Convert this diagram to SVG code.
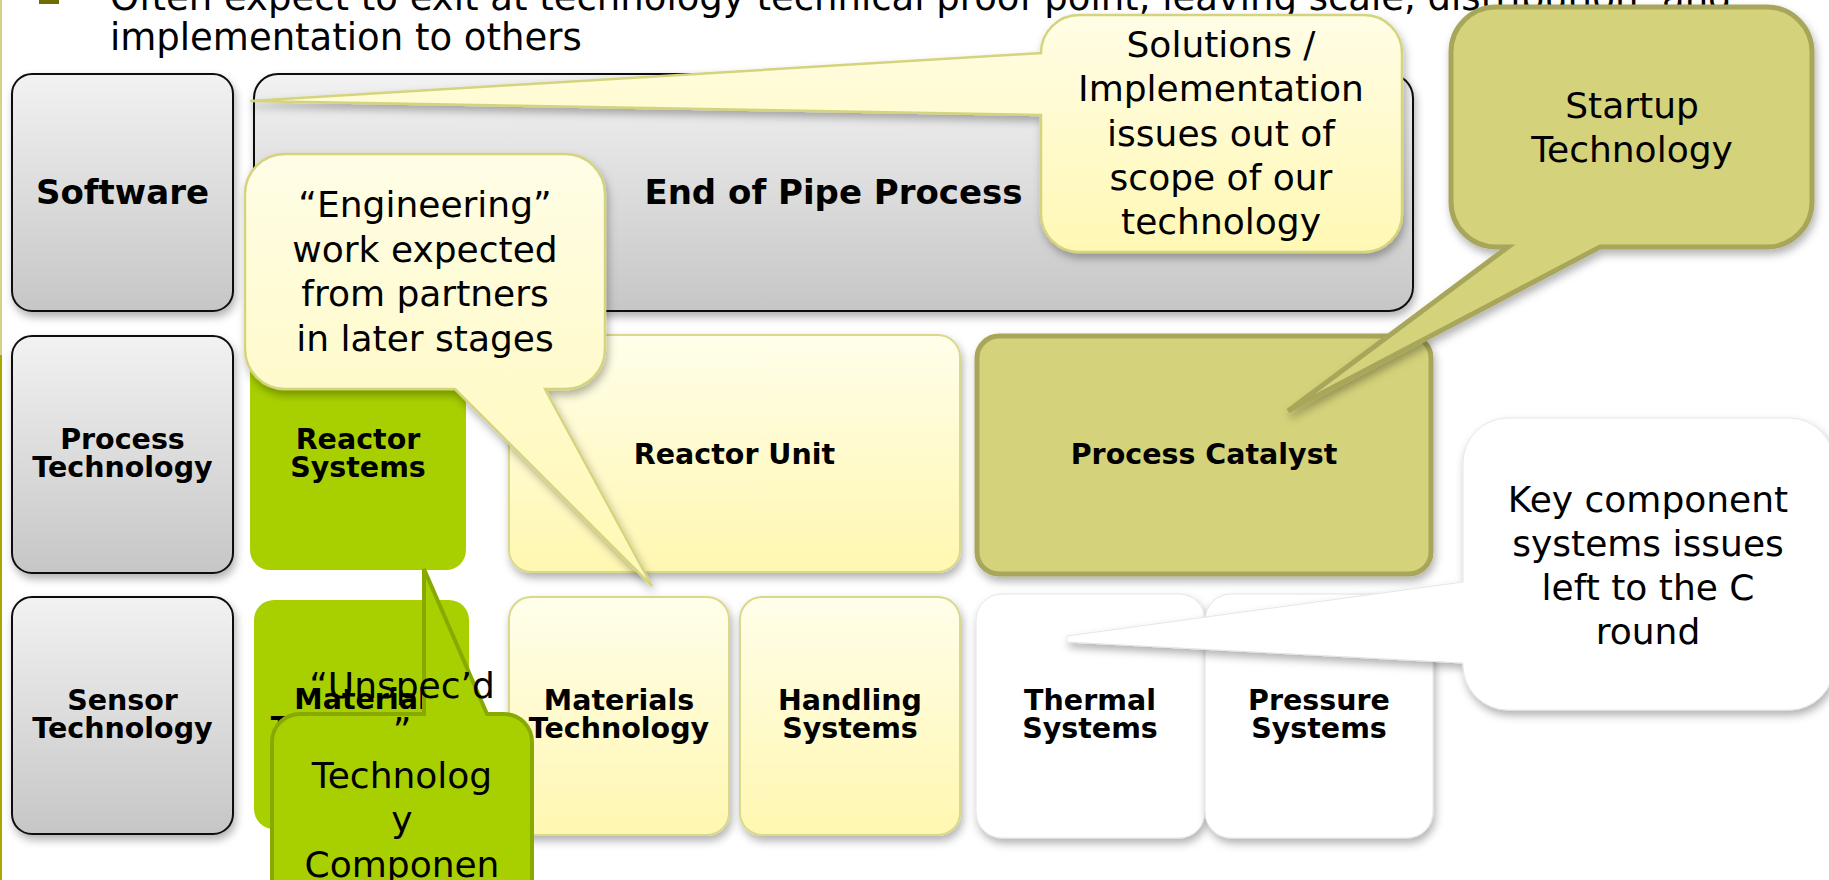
<svg xmlns="http://www.w3.org/2000/svg" width="1829" height="880" viewBox="0 0 1829 880">
<defs>
<linearGradient id="gGray" x1="0" y1="0" x2="0" y2="1"><stop offset="0" stop-color="#f2f2f2"/><stop offset="1" stop-color="#c6c6c6"/></linearGradient>
<linearGradient id="gYel" x1="0" y1="0" x2="0" y2="1"><stop offset="0" stop-color="#fffeea"/><stop offset="1" stop-color="#fff7b0"/></linearGradient>
<linearGradient id="gCall" x1="0" y1="0" x2="0" y2="1"><stop offset="0" stop-color="#fffde6"/><stop offset="1" stop-color="#fff8b4"/></linearGradient>
<filter id="sh" x="-10%" y="-10%" width="125%" height="130%"><feDropShadow dx="2" dy="5" stdDeviation="4" flood-color="#000" flood-opacity="0.3"/></filter>
<style>
text{font-family:"DejaVu Sans","Liberation Sans",sans-serif;fill:#000;text-anchor:middle}
.b1{font-weight:bold;font-size:34px}
.b2{font-weight:bold;font-size:28.5px}
.c{font-size:36px}
.hd{font-size:37px;text-anchor:start}
.gray{fill:url(#gGray);stroke:#111;stroke-width:2;filter:url(#sh)}
.yel{fill:url(#gYel);stroke:#d9d98c;stroke-width:2;filter:url(#sh)}
.olive{fill:#d4d27a;stroke:#a8a65a;stroke-width:5;filter:url(#sh)}
.green{fill:#a8d000}
.white{fill:#fff;stroke:#e4e4e4;stroke-width:1;filter:url(#sh)}
.cy{fill:url(#gCall);stroke:#d4d47e;stroke-width:2.5;filter:url(#sh)}
.cw{fill:#fff;stroke:#e6e6e6;stroke-width:1;filter:url(#sh)}
.cg{fill:#a8d000;stroke:#88aa00;stroke-width:4}
</style>
</defs>
<rect width="1829" height="880" fill="#fff"/>
<line x1="1" y1="0" x2="1" y2="355" stroke="#d2d28a" stroke-width="2"/>
<line x1="1" y1="355" x2="1" y2="880" stroke="#a8a800" stroke-width="2"/>
<g id="header">
<rect x="39" y="-16" width="20" height="20" fill="#6e6e00"/>
<text class="hd" x="110" y="10">Often expect to exit at technology technical proof point, leaving scale, distribution, and</text>
<text class="hd" x="110" y="50">implementation to others</text>
</g>
<g id="connectors"/>
<g id="software"><rect class="gray" x="12" y="74" width="221" height="237" rx="20"/><text class="b1" x="122.5" y="204">Software</text></g>
<g id="end-of-pipe"><rect class="gray" x="254" y="74" width="1159" height="237" rx="24"/><text class="b1" x="833.5" y="204">End of Pipe Process</text></g>
<g id="process-technology"><rect class="gray" x="12" y="336" width="221" height="237" rx="20"/><text class="b2" x="122.5" y="449">Process</text><text class="b2" x="122.5" y="477">Technology</text></g>
<g id="reactor-systems"><rect class="green" x="250" y="336" width="216" height="234" rx="20"/><text class="b2" x="358" y="449">Reactor</text><text class="b2" x="358" y="477">Systems</text></g>
<g id="reactor-unit"><rect class="yel" x="509" y="335" width="451" height="237" rx="22"/><text class="b2" x="734.5" y="464">Reactor Unit</text></g>
<g id="process-catalyst"><rect class="olive" x="977" y="336" width="454" height="238" rx="22"/><text class="b2" x="1204" y="464">Process Catalyst</text></g>
<g id="sensor-technology"><rect class="gray" x="12" y="597" width="221" height="237" rx="20"/><text class="b2" x="122.5" y="710">Sensor</text><text class="b2" x="122.5" y="738">Technology</text></g>
<g id="material-technology"><rect class="green" x="254" y="600" width="215" height="229" rx="20"/><text class="b2" x="361" y="709">Material</text><text class="b2" x="361" y="737">Technology</text></g>
<g id="materials-technology"><rect class="yel" x="509" y="597" width="220" height="238" rx="22"/><text class="b2" x="619" y="710">Materials</text><text class="b2" x="619" y="738">Technology</text></g>
<g id="handling-systems"><rect class="yel" x="740" y="597" width="220" height="238" rx="22"/><text class="b2" x="850" y="710">Handling</text><text class="b2" x="850" y="738">Systems</text></g>
<g id="thermal-systems"><rect class="white" x="976" y="594" width="229" height="244" rx="26"/><text class="b2" x="1090" y="710">Thermal</text><text class="b2" x="1090" y="738">Systems</text></g>
<g id="pressure-systems"><rect class="white" x="1205" y="594" width="228" height="244" rx="26"/><text class="b2" x="1319" y="710">Pressure</text><text class="b2" x="1319" y="738">Systems</text></g>
<g id="callout-solutions">
<path class="cy" d="M1079,15 H1364 A38,38 0 0 1 1402,53 V214 A38,38 0 0 1 1364,252 H1079 A38,38 0 0 1 1041,214 V115 L250,101 L1041,53 A38,38 0 0 1 1079,15 Z"/>
<text class="c" x="1221" y="57">Solutions /</text>
<text class="c" x="1221" y="101">Implementation</text>
<text class="c" x="1221" y="146">issues out of</text>
<text class="c" x="1221" y="190">scope of our</text>
<text class="c" x="1221" y="234">technology</text>
</g>
<g id="callout-engineering">
<path class="cy" d="M285,154 H565 A40,40 0 0 1 605,194 V349 A40,40 0 0 1 565,389 H545 L652,586 L455,389 H285 A40,40 0 0 1 245,349 V194 A40,40 0 0 1 285,154 Z"/>
<text class="c" x="425" y="217">“Engineering”</text>
<text class="c" x="425" y="262">work expected</text>
<text class="c" x="425" y="306">from partners</text>
<text class="c" x="425" y="351">in later stages</text>
</g>
<g id="callout-startup">
<path class="olive" d="M1496,7 H1767 A45,45 0 0 1 1812,52 V202 A45,45 0 0 1 1767,247 H1600 L1288,411 L1508,247 H1496 A45,45 0 0 1 1451,202 V52 A45,45 0 0 1 1496,7 Z"/>
<text class="c" x="1632" y="118">Startup</text>
<text class="c" x="1632" y="162">Technology</text>
</g>
<g id="callout-key-component">
<path class="cw" d="M1508,418 H1789 A45,45 0 0 1 1834,463 V665 A45,45 0 0 1 1789,710 H1508 A45,45 0 0 1 1463,665 V663 L1067,642 L1067,636 L1463,582 V463 A45,45 0 0 1 1508,418 Z"/>
<text class="c" x="1648" y="512">Key component</text>
<text class="c" x="1648" y="556">systems issues</text>
<text class="c" x="1648" y="600">left to the C</text>
<text class="c" x="1648" y="644">round</text>
</g>
<g id="callout-unspecd">
<path class="cg" d="M300,714 H424 V569 L487,714 H504 A28,28 0 0 1 532,742 V910 H272 V742 A28,28 0 0 1 300,714 Z"/>
<text class="c" x="402" y="698">“Unspec’d</text>
<text class="c" x="402" y="743">”</text>
<text class="c" x="402" y="788">Technolog</text>
<text class="c" x="402" y="832">y</text>
<text class="c" x="402" y="877">Componen</text>
</g>
</svg>
